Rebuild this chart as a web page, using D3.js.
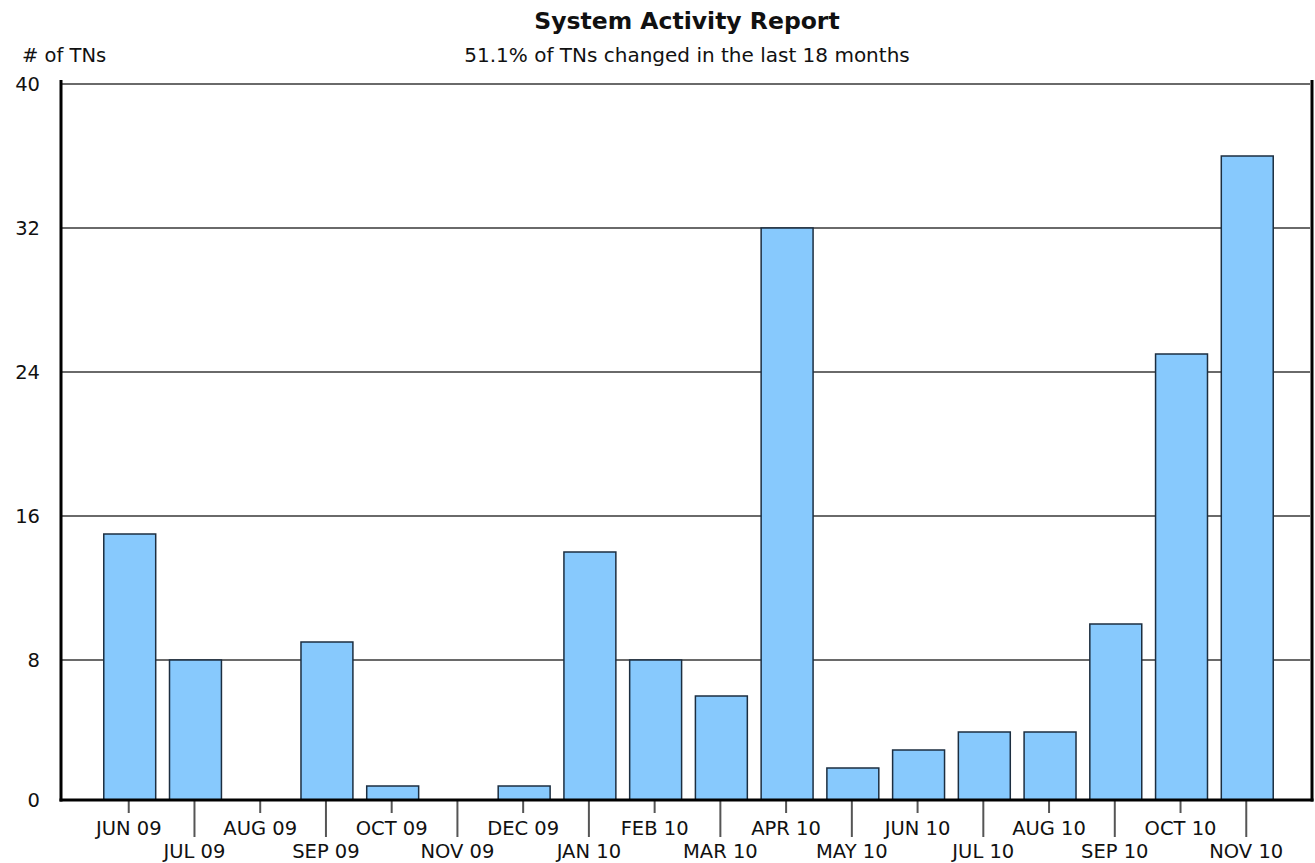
<!DOCTYPE html>
<html>
<head>
<meta charset="utf-8">
<script src="https://cdn.jsdelivr.net/npm/d3@7"></script>
<style>
  html, body { margin: 0; padding: 0; background: #fff; }
  svg { display: block; font-family: "DejaVu Sans", "Noto Sans", sans-serif; }
</style>
</head>
<body>
<svg id="chart" width="1315" height="863"></svg>
<script>
// Monthly counts of changed TNs
const months = ["JUN 09", "JUL 09", "AUG 09", "SEP 09", "OCT 09", "NOV 09", "DEC 09",
                "JAN 10", "FEB 10", "MAR 10", "APR 10", "MAY 10", "JUN 10", "JUL 10",
                "AUG 10", "SEP 10", "OCT 10", "NOV 10"];
const counts = [15, 8, 0, 9, 1, 0, 1, 14, 8, 6, 32, 2, 3, 4, 4, 10, 25, 36];
const yTicks = [0, 8, 16, 24, 32, 40];
const titleText = "System Activity Report";
const subtitleText = "51.1% of TNs changed in the last 18 months";
const yAxisLabel = "# of TNs";

const svg = d3.select("#chart");
const plotLeft = 62, plotRight = 1312, plotTop = 84, plotBottom = 800;
const labelSize = 19.5;

// zero sits a few pixels below the drawn baseline
const y = d3.scaleLinear().domain([0, 40]).range([plotBottom + 4, plotTop]);
// one empty slot at each end of the category axis
const x = d3.scaleLinear().domain([0, months.length + 1]).range([plotLeft + 1, plotRight]);
const slot = x(1) - x(0);
const barW = slot * 0.79;

// horizontal gridlines
svg.append("g").selectAll("line")
  .data(yTicks.filter(d => d > 0))
  .join("line")
  .attr("x1", plotLeft).attr("x2", plotRight - 2)
  .attr("y1", d => y(d)).attr("y2", d => y(d))
  .attr("stroke", "#6a6a6a").attr("stroke-width", 2.2);

// y tick labels
svg.append("g").selectAll("text")
  .data(yTicks)
  .join("text")
  .attr("x", 40).attr("y", d => d === 0 ? plotBottom : y(d))
  .attr("dy", "0.35em")
  .attr("text-anchor", "end")
  .attr("font-size", labelSize)
  .attr("fill", "#111")
  .text(d => d);

// bars
svg.append("g").selectAll("rect")
  .data(counts.map((v, i) => ({ v, i })).filter(d => d.v > 0))
  .join("rect")
  .attr("x", d => x(d.i + 1) - barW / 2 + 1)
  .attr("width", barW)
  .attr("y", d => y(d.v))
  .attr("height", d => plotBottom - y(d.v))
  .attr("fill", "#87c9fd")
  .attr("stroke", "#1c2e40")
  .attr("stroke-width", 1.5);

// x ticks, alternating short and long
svg.append("g").selectAll("line")
  .data(months)
  .join("line")
  .attr("x1", (d, i) => x(i + 1)).attr("x2", (d, i) => x(i + 1))
  .attr("y1", plotBottom)
  .attr("y2", (d, i) => plotBottom + (i % 2 === 0 ? 13 : 37))
  .attr("stroke", "#555").attr("stroke-width", 2);

// x labels on two staggered rows
svg.append("g").selectAll("text")
  .data(months)
  .join("text")
  .attr("x", (d, i) => x(i + 1))
  .attr("y", (d, i) => i % 2 === 0 ? 835 : 858)
  .attr("text-anchor", "middle")
  .attr("font-size", labelSize)
  .attr("fill", "#111")
  .text(d => d);

// frame: left, right and bottom axis lines
svg.append("line").attr("x1", plotLeft - 1).attr("x2", plotLeft - 1).attr("y1", plotTop - 4).attr("y2", plotBottom + 1.5)
  .attr("stroke", "#000").attr("stroke-width", 3);
svg.append("line").attr("x1", plotRight).attr("x2", plotRight).attr("y1", plotTop - 4).attr("y2", plotBottom + 1.5)
  .attr("stroke", "#000").attr("stroke-width", 3);
svg.append("line").attr("x1", plotLeft - 2.5).attr("x2", plotRight + 1.5).attr("y1", plotBottom).attr("y2", plotBottom)
  .attr("stroke", "#000").attr("stroke-width", 3);

// titles
const cx = (plotLeft + plotRight) / 2;
svg.append("text").attr("x", cx).attr("y", 29)
  .attr("text-anchor", "middle").attr("font-size", 23.5).attr("font-weight", "bold")
  .attr("fill", "#111").text(titleText);
svg.append("text").attr("x", cx).attr("y", 62)
  .attr("text-anchor", "middle").attr("font-size", 20)
  .attr("fill", "#111").text(subtitleText);
svg.append("text").attr("x", 22).attr("y", 62)
  .attr("font-size", labelSize).attr("fill", "#111").text(yAxisLabel);
</script>
</body>
</html>
